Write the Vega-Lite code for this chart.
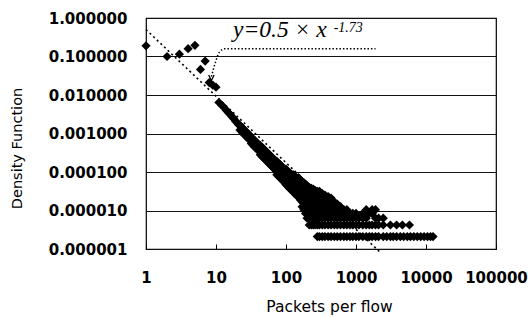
{
  "$schema": "https://vega.github.io/schema/vega-lite/v6.json",
  "width": 350,
  "height": 231,
  "autosize": {"type": "none"},
  "padding": {"left": 146, "top": 18, "right": 32, "bottom": 69},
  "background": "white",
  "config": {"view": {"stroke": "#000", "strokeWidth": 1.2}},
  "datasets": {
    "pts": [
      {"packets":1,"density":0.19},{"packets":2,"density":0.1},{"packets":3,"density":0.115},{"packets":4,"density":0.16},{"packets":5,"density":0.195},
      {"packets":6,"density":0.046},{"packets":7,"density":0.076},{"packets":8,"density":0.021},{"packets":9,"density":0.018},{"packets":10,"density":0.016},
      {"packets":11,"density":0.0064},{"packets":12,"density":0.0055},{"packets":13,"density":0.0047},{"packets":14,"density":0.004},{"packets":15,"density":0.0035},
      {"packets":16,"density":0.0031},{"packets":17,"density":0.0027},{"packets":18,"density":0.0024},{"packets":19,"density":0.0021},{"packets":20,"density":0.0019},{"packets":21,"density":0.0017},
      {"packets":22,"density":0.00163},{"packets":22,"density":0.00124},{"packets":23,"density":0.00149},{"packets":23,"density":0.00114},
      {"packets":24,"density":0.00138},{"packets":24,"density":0.00105},{"packets":25,"density":0.00127},{"packets":25,"density":0.00097},
      {"packets":26,"density":0.00119},{"packets":26,"density":0.0009},{"packets":27,"density":0.0011},{"packets":27,"density":0.00084},
      {"packets":28,"density":0.00103},{"packets":28,"density":0.00079},{"packets":29,"density":0.00097},{"packets":29,"density":0.00074},
      {"packets":30,"density":0.00091},{"packets":30,"density":0.00069},
      {"packets":32,"density":0.000805},{"packets":32,"density":0.00055},{"packets":34,"density":0.00072},{"packets":34,"density":0.00049},
      {"packets":36,"density":0.00065},{"packets":36,"density":0.00044},{"packets":38,"density":0.000585},{"packets":38,"density":0.0004},
      {"packets":40,"density":0.000535},{"packets":40,"density":0.000365},
      {"packets":43,"density":0.00049},{"packets":43,"density":0.00038},{"packets":43,"density":0.00028},
      {"packets":46,"density":0.000433},{"packets":46,"density":0.000335},{"packets":46,"density":0.000248},
      {"packets":49,"density":0.000386},{"packets":49,"density":0.000298},{"packets":49,"density":0.000221},
      {"packets":52,"density":0.000345},{"packets":52,"density":0.000267},{"packets":52,"density":0.000198},
      {"packets":55,"density":0.000311},{"packets":55,"density":0.000241},{"packets":55,"density":0.000178},
      {"packets":58,"density":0.000282},{"packets":58,"density":0.000218},{"packets":58,"density":0.000161},
      {"packets":61,"density":0.000256},{"packets":61,"density":0.000198},{"packets":61,"density":0.000147},
      {"packets":64,"density":0.000235},{"packets":64,"density":0.000182},{"packets":64,"density":0.000135},
      {"packets":67,"density":0.000216},{"packets":67,"density":0.000167},{"packets":67,"density":0.000123},
      {"packets":70,"density":0.000199},{"packets":70,"density":0.000154},{"packets":70,"density":0.000114},
      {"packets":74,"density":0.000189},{"packets":74,"density":0.000131},{"packets":74,"density":0.000085},
      {"packets":78,"density":0.000171},{"packets":78,"density":0.000119},{"packets":78,"density":0.000077},
      {"packets":82,"density":0.000156},{"packets":82,"density":0.000109},{"packets":82,"density":0.000071},
      {"packets":86,"density":0.000144},{"packets":86,"density":0.0001},{"packets":86,"density":0.000065},
      {"packets":90,"density":0.000131},{"packets":90,"density":0.000091},{"packets":90,"density":0.000059},
      {"packets":95,"density":0.000118},{"packets":95,"density":0.000082},{"packets":95,"density":0.000054},
      {"packets":100,"density":0.000118},{"packets":100,"density":0.000075},{"packets":100,"density":0.000047},
      {"packets":105,"density":0.000107},{"packets":105,"density":0.000069},{"packets":105,"density":0.000043},
      {"packets":110,"density":0.000098},{"packets":110,"density":0.000063},{"packets":110,"density":0.000039},
      {"packets":115,"density":0.000091},{"packets":115,"density":0.000058},{"packets":115,"density":0.000036},
      {"packets":120,"density":0.000084},{"packets":120,"density":0.000054},{"packets":120,"density":0.0000335},
      {"packets":126,"density":0.000086},{"packets":126,"density":0.000052},{"packets":126,"density":0.000031},
      {"packets":132,"density":0.000079},{"packets":132,"density":0.000048},{"packets":132,"density":0.000028},
      {"packets":138,"density":0.000072},{"packets":138,"density":0.000044},{"packets":138,"density":0.000026},
      {"packets":144,"density":0.000067},{"packets":144,"density":0.000041},{"packets":144,"density":0.000024},
      {"packets":150,"density":0.0000714},{"packets":150,"density":0.0000504},{"packets":150,"density":0.0000336},{"packets":150,"density":0.0000231},
      {"packets":160,"density":0.000063},{"packets":160,"density":0.0000441},{"packets":160,"density":0.0000294},{"packets":160,"density":0.0000189},
      {"packets":170,"density":0.0000567},{"packets":170,"density":0.0000399},{"packets":170,"density":0.0000273},{"packets":170,"density":0.0000168},{"packets":170,"density":0.0000126},
      {"packets":180,"density":0.0000525},{"packets":180,"density":0.0000357},{"packets":180,"density":0.0000252},{"packets":180,"density":0.0000168},{"packets":180,"density":0.0000105},
      {"packets":190,"density":0.0000483},{"packets":190,"density":0.0000336},{"packets":190,"density":0.0000231},{"packets":190,"density":0.0000147},{"packets":190,"density":0.0000084},
      {"packets":200,"density":0.0000441},{"packets":200,"density":0.0000315},{"packets":200,"density":0.000021},{"packets":200,"density":0.0000147},{"packets":200,"density":0.0000084},{"packets":200,"density":0.0000063},
      {"packets":215,"density":0.0000399},{"packets":215,"density":0.0000294},{"packets":215,"density":0.000021},{"packets":215,"density":0.0000147},{"packets":215,"density":0.0000105},{"packets":215,"density":0.0000063},{"packets":215,"density":0.0000042},
      {"packets":230,"density":0.0000378},{"packets":230,"density":0.0000273},{"packets":230,"density":0.0000189},{"packets":230,"density":0.0000126},{"packets":230,"density":0.0000084},{"packets":230,"density":0.0000042},
      {"packets":245,"density":0.0000357},{"packets":245,"density":0.0000252},{"packets":245,"density":0.0000168},{"packets":245,"density":0.0000126},{"packets":245,"density":0.0000084},{"packets":245,"density":0.0000063},{"packets":245,"density":0.0000042},
      {"packets":260,"density":0.0000336},{"packets":260,"density":0.0000231},{"packets":260,"density":0.0000168},{"packets":260,"density":0.0000105},{"packets":260,"density":0.0000063},{"packets":260,"density":0.0000042},
      {"packets":280,"density":0.0000315},{"packets":280,"density":0.000021},{"packets":280,"density":0.0000147},{"packets":280,"density":0.0000105},{"packets":280,"density":0.0000063},{"packets":280,"density":0.0000042},{"packets":280,"density":0.0000021},
      {"packets":300,"density":0.0000315},{"packets":300,"density":0.000021},{"packets":300,"density":0.0000147},{"packets":300,"density":0.0000105},{"packets":300,"density":0.0000084},{"packets":300,"density":0.0000063},{"packets":300,"density":0.0000042},{"packets":300,"density":0.0000021},
      {"packets":330,"density":0.0000273},{"packets":330,"density":0.0000189},{"packets":330,"density":0.0000126},{"packets":330,"density":0.0000084},{"packets":330,"density":0.0000063},{"packets":330,"density":0.0000042},{"packets":330,"density":0.0000021},
      {"packets":360,"density":0.0000252},{"packets":360,"density":0.0000168},{"packets":360,"density":0.0000126},{"packets":360,"density":0.0000084},{"packets":360,"density":0.0000063},{"packets":360,"density":0.0000042},{"packets":360,"density":0.0000021},
      {"packets":400,"density":0.0000231},{"packets":400,"density":0.0000168},{"packets":400,"density":0.0000105},{"packets":400,"density":0.0000084},{"packets":400,"density":0.0000063},{"packets":400,"density":0.0000042},{"packets":400,"density":0.0000021},
      {"packets":440,"density":0.000021},{"packets":440,"density":0.0000147},{"packets":440,"density":0.0000105},{"packets":440,"density":0.0000063},{"packets":440,"density":0.0000042},{"packets":440,"density":0.0000021},
      {"packets":490,"density":0.0000168},{"packets":490,"density":0.0000126},{"packets":490,"density":0.0000084},{"packets":490,"density":0.0000063},{"packets":490,"density":0.0000042},{"packets":490,"density":0.0000021},
      {"packets":540,"density":0.0000147},{"packets":540,"density":0.0000105},{"packets":540,"density":0.0000084},{"packets":540,"density":0.0000063},{"packets":540,"density":0.0000042},{"packets":540,"density":0.0000021},
      {"packets":600,"density":0.0000126},{"packets":600,"density":0.0000105},{"packets":600,"density":0.0000084},{"packets":600,"density":0.0000063},{"packets":600,"density":0.0000042},{"packets":600,"density":0.0000021},
      {"packets":670,"density":0.0000105},{"packets":670,"density":0.0000084},{"packets":670,"density":0.0000063},{"packets":670,"density":0.0000042},{"packets":670,"density":0.0000021},
      {"packets":740,"density":0.0000105},{"packets":740,"density":0.0000084},{"packets":740,"density":0.0000063},{"packets":740,"density":0.0000042},{"packets":740,"density":0.0000021},
      {"packets":820,"density":0.0000084},{"packets":820,"density":0.0000063},{"packets":820,"density":0.0000042},{"packets":820,"density":0.0000021},
      {"packets":900,"density":0.0000084},{"packets":900,"density":0.0000063},{"packets":900,"density":0.0000042},{"packets":900,"density":0.0000021},
      {"packets":1000,"density":0.0000084},{"packets":1000,"density":0.0000063},{"packets":1000,"density":0.0000042},{"packets":1000,"density":0.0000021},
      {"packets":1100,"density":0.0000063},{"packets":1100,"density":0.0000042},{"packets":1100,"density":0.0000021},
      {"packets":1250,"density":0.0000084},{"packets":1250,"density":0.0000063},{"packets":1250,"density":0.0000042},{"packets":1250,"density":0.0000021},
      {"packets":1400,"density":0.0000105},{"packets":1400,"density":0.0000063},{"packets":1400,"density":0.0000042},{"packets":1400,"density":0.0000021},
      {"packets":1550,"density":0.0000084},{"packets":1550,"density":0.0000042},{"packets":1550,"density":0.0000021},
      {"packets":1700,"density":0.0000105},{"packets":1700,"density":0.0000084},{"packets":1700,"density":0.0000042},{"packets":1700,"density":0.0000021},
      {"packets":1900,"density":0.0000105},{"packets":1900,"density":0.0000063},{"packets":1900,"density":0.0000042},{"packets":1900,"density":0.0000021},
      {"packets":2100,"density":0.0000063},{"packets":2100,"density":0.0000042},{"packets":2100,"density":0.0000021},
      {"packets":2450,"density":0.0000063},{"packets":2450,"density":0.0000042},{"packets":2450,"density":0.0000021},
      {"packets":3100,"density":0.0000042},{"packets":3800,"density":0.0000042},{"packets":4600,"density":0.0000042},{"packets":5800,"density":0.0000042},
      {"packets":2750,"density":0.0000021},{"packets":3100,"density":0.0000021},{"packets":3400,"density":0.0000021},{"packets":3800,"density":0.0000021},
      {"packets":4300,"density":0.0000021},{"packets":4800,"density":0.0000021},{"packets":5400,"density":0.0000021},{"packets":6000,"density":0.0000021},
      {"packets":6700,"density":0.0000021},{"packets":7500,"density":0.0000021},{"packets":8400,"density":0.0000021},{"packets":9400,"density":0.0000021},
      {"packets":10500,"density":0.0000021},{"packets":11600,"density":0.0000021},{"packets":12600,"density":0.0000021}
    ],
    "fit": [{"packets":1,"density":0.5},{"packets":2200,"density":0.00000083}],
    "arrow": [
      {"packets":8.6,"density":0.03},{"packets":9.8,"density":0.07},{"packets":11.2,"density":0.13},
      {"packets":13.5,"density":0.16},{"packets":1900,"density":0.16}
    ],
    "tip": [{"packets":8.6,"density":0.028}],
    "eq": [{"packets":17.5,"density":0.32,"text":"y=0.5  × x"}],
    "sup": [{"packets":480,"density":0.43,"text":"-1.73"}]
  },
  "encoding": {
    "x": {
      "field": "packets", "type": "quantitative",
      "scale": {"type": "log", "domain": [1, 100000], "nice": false},
      "axis": {
        "values": [1, 10, 100, 1000, 10000, 100000], "format": "d",
        "grid": false, "domain": false, "ticks": true, "tickSize": -5, "tickColor": "#000", "tickWidth": 1,
        "labelFont": "DejaVu Sans", "labelFontWeight": "bold", "labelFontSize": 15, "labelColor": "#000",
        "labelPadding": 26, "labelFlush": false, "labelOverlap": false,
        "title": "Packets per flow", "titleFont": "DejaVu Sans", "titleFontWeight": "normal", "titleFontSize": 15.5,
        "titleColor": "#000", "titleX": 183, "titleY": 62, "titleAlign": "center", "titleBaseline": "alphabetic"
      }
    },
    "y": {
      "field": "density", "type": "quantitative",
      "scale": {"type": "log", "domain": [0.000001, 1], "nice": false},
      "axis": {
        "values": [0.000001, 0.00001, 0.0001, 0.001, 0.01, 0.1, 1], "format": ".6f",
        "grid": true, "gridColor": "#111", "gridWidth": 1, "domain": false, "ticks": false,
        "labelFont": "DejaVu Sans", "labelFontWeight": "bold", "labelFontSize": 15, "labelColor": "#000",
        "labelPadding": 19, "labelOverlap": false, "labelBound": false,
        "title": "Density Function", "titleFont": "DejaVu Sans", "titleFontWeight": "normal", "titleFontSize": 14.5,
        "titleColor": "#000", "titleX": -129, "titleY": 130, "titleAngle": 270, "titleAlign": "center", "titleBaseline": "middle"
      }
    }
  },
  "layer": [
    {
      "data": {"name": "fit"},
      "mark": {"type": "line", "color": "#000", "strokeWidth": 1.6, "strokeDash": [2, 3]}
    },
    {
      "data": {"name": "arrow"},
      "mark": {"type": "line", "color": "#000", "strokeWidth": 1.5, "strokeDash": [1.5, 2], "interpolate": "monotone"}
    },
    {
      "data": {"name": "tip"},
      "mark": {"type": "point", "shape": "M-1,-1L0,1L1,-1", "filled": false, "stroke": "#000", "strokeWidth": 1.3, "size": 30, "opacity": 1}
    },
    {
      "data": {"name": "pts"},
      "mark": {"type": "point", "shape": "diamond", "filled": true, "color": "#000", "size": 85, "opacity": 1}
    },
    {
      "data": {"name": "eq"},
      "mark": {"type": "text", "font": "Liberation Serif", "fontStyle": "italic", "fontSize": 23.5, "align": "left", "baseline": "alphabetic", "color": "#000"},
      "encoding": {"text": {"field": "text"}}
    },
    {
      "data": {"name": "sup"},
      "mark": {"type": "text", "font": "Liberation Serif", "fontStyle": "italic", "fontSize": 14, "align": "left", "baseline": "alphabetic", "color": "#000"},
      "encoding": {"text": {"field": "text"}}
    }
  ]
}
